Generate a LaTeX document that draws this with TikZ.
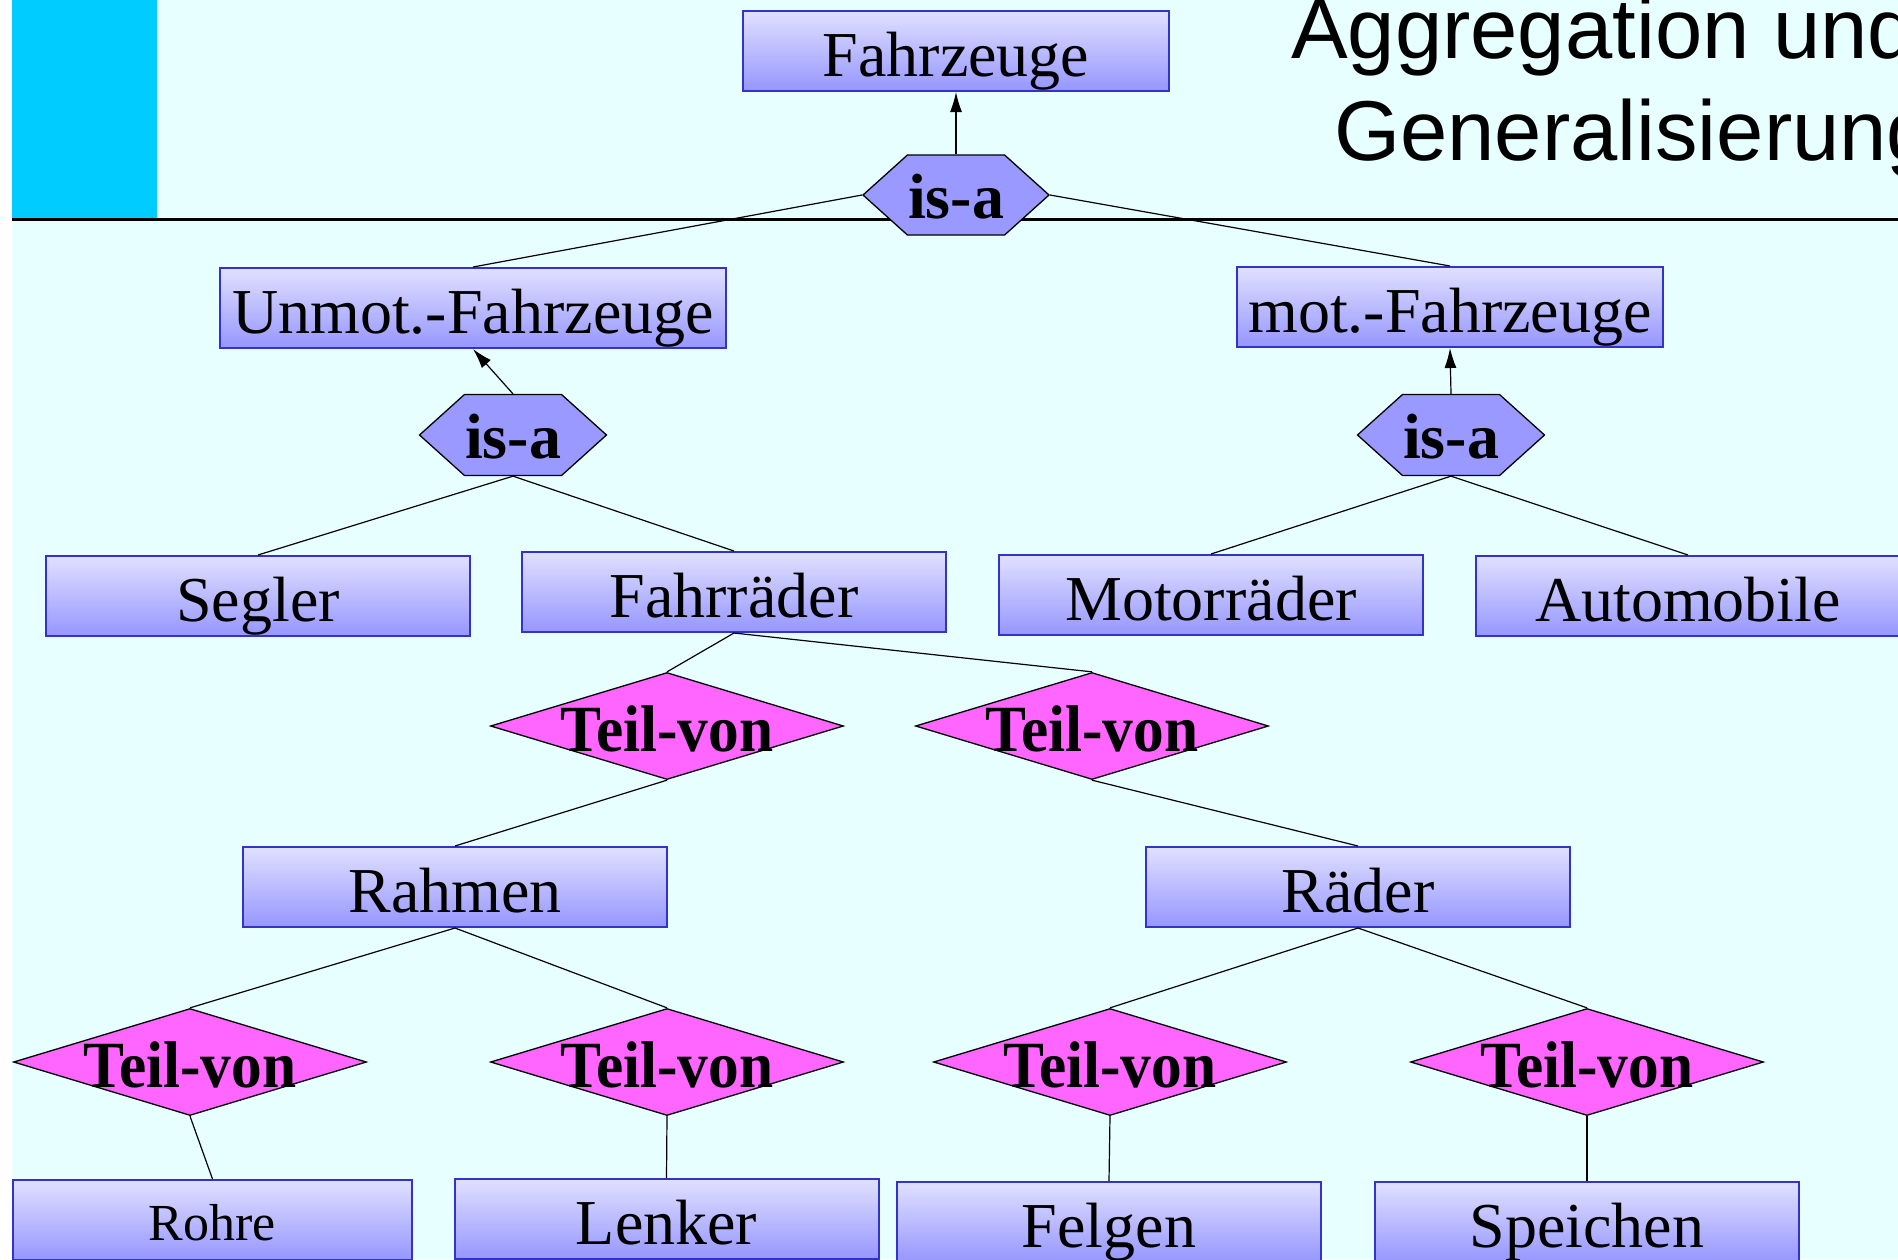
\documentclass[tikz,border=0pt]{standalone}
\usepackage{fontspec}
\setmainfont{Liberation Serif}
\newfontfamily\titlefont{Liberation Sans}
\usetikzlibrary{shapes.geometric,shapes.symbols,arrows.meta}
\definecolor{bgc}{RGB}{232,255,255}
\definecolor{barc}{RGB}{0,204,255}
\definecolor{boxtop}{RGB}{224,224,255}
\definecolor{boxbot}{RGB}{150,150,255}
\definecolor{boxline}{RGB}{51,51,204}
\definecolor{isafill}{RGB}{153,153,255}
\definecolor{teilfill}{RGB}{255,102,255}
\tikzset{
  entity/.style={draw=boxline, line width=2pt, top color=boxtop, bottom color=boxbot,
    minimum width=424pt, minimum height=80pt, inner sep=0pt,
    font=\fontsize{64}{70}\selectfont, text height=50pt, text depth=0pt},
  isabox/.style={signal, signal to=east and west, signal pointer angle=84,
    draw=black, line width=1.3pt, fill=isafill, minimum width=186pt, minimum height=80pt,
    inner sep=0pt, font=\bfseries\fontsize{64}{70}\selectfont, text height=46pt, text depth=0pt},
  teil/.style={diamond, draw=black, line width=1.3pt, fill=teilfill, inner sep=0pt,
    minimum width=353pt, minimum height=107pt,
    label={[font=\bfseries\fontsize{66}{70}\selectfont, text height=50pt, text depth=0pt, inner sep=0pt]center:\scalebox{0.93}[1]{Teil-von}}},
  conn/.style={draw=black, line width=1.2pt},
  arr/.style={conn, -{Latex[length=20pt,width=12pt]}}
}
\begin{document}
\begin{tikzpicture}[x=1pt,y=-1pt]
\useasboundingbox (0,0) rectangle (1898,1259);
\clip (0,0) rectangle (1898,1259);
\fill[white] (0,0) rectangle (1898,1259);
\fill[bgc] (12,0) rectangle (1898,1259);
\fill[barc] (12,0) rectangle (157,219);
\draw[line width=3.5pt] (12,219.5) -- (1898,219.5);

% title
\node[anchor=base west, inner sep=0pt, font=\titlefont\fontsize{85}{100}\selectfont] (title1) at (1291,58) {Aggregation und};
\node[anchor=base west, inner sep=0pt, font=\titlefont\fontsize{85}{100}\selectfont] (title2) at (1334,160) {Generalisierung};

% entities
\node[entity, minimum width=426pt] (fz) at (956,51) {Fahrzeuge};
\node[entity, minimum width=506pt] (unmot) at (473,308) {Unmot.-Fahrzeuge};
\node[entity, minimum width=426pt] (mot) at (1450,307) {mot.-Fahrzeuge};
\node[entity] (segler) at (258,596) {Segler};
\node[entity] (fahrr) at (734,592) {Fahrräder};
\node[entity] (motor) at (1211,595) {Motorräder};
\node[entity] (auto) at (1688,596) {Automobile};
\node[entity] (rahmen) at (455,887) {Rahmen};
\node[entity] (raeder) at (1358,887) {Räder};
\node[entity, minimum width=399pt, font=\fontsize{52}{60}\selectfont, text height=40pt] (rohre) at (212.5,1220) {Rohre};
\node[entity] (lenker) at (666.5,1219) {Lenker};
\node[entity] (felgen) at (1109,1222) {Felgen};
\node[entity] (speichen) at (1587,1222) {Speichen};

% is-a relationships
\node[isabox] (h0) at (956,195) {is-a};
\node[isabox, minimum width=187pt, minimum height=81pt] (h1) at (513,435) {is-a};
\node[isabox, minimum width=187pt, minimum height=81pt] (h2) at (1451,435) {is-a};

% Teil-von relationships
\node[teil] (t1) at (667,726) {};
\node[teil] (t2) at (1092,726) {};
\node[teil] (t3) at (190,1062) {};
\node[teil] (t4) at (667,1062) {};
\node[teil] (t5) at (1110,1062) {};
\node[teil] (t6) at (1587,1062) {};

% connectors
\draw[arr] (h0.north) -- (fz.south);
\draw[conn] (h0.west) -- (unmot.north);
\draw[conn] (h0.east) -- (mot.north);
\draw[arr] (h1.north) -- (unmot.south);
\draw[arr] (h2.north) -- (mot.south);
\draw[conn] (h1.south) -- (segler.north);
\draw[conn] (h1.south) -- (fahrr.north);
\draw[conn] (h2.south) -- (motor.north);
\draw[conn] (h2.south) -- (auto.north);
\draw[conn] (fahrr.south) -- (t1.north);
\draw[conn] (fahrr.south) -- (t2.north);
\draw[conn] (t1.south) -- (rahmen.north);
\draw[conn] (t2.south) -- (raeder.north);
\draw[conn] (rahmen.south) -- (t3.north);
\draw[conn] (rahmen.south) -- (t4.north);
\draw[conn] (raeder.south) -- (t5.north);
\draw[conn] (raeder.south) -- (t6.north);
\draw[conn] (t3.south) -- (rohre.north);
\draw[conn] (t4.south) -- (lenker.north);
\draw[conn] (t5.south) -- (felgen.north);
\draw[conn] (t6.south) -- (speichen.north);
\end{tikzpicture}
\end{document}
